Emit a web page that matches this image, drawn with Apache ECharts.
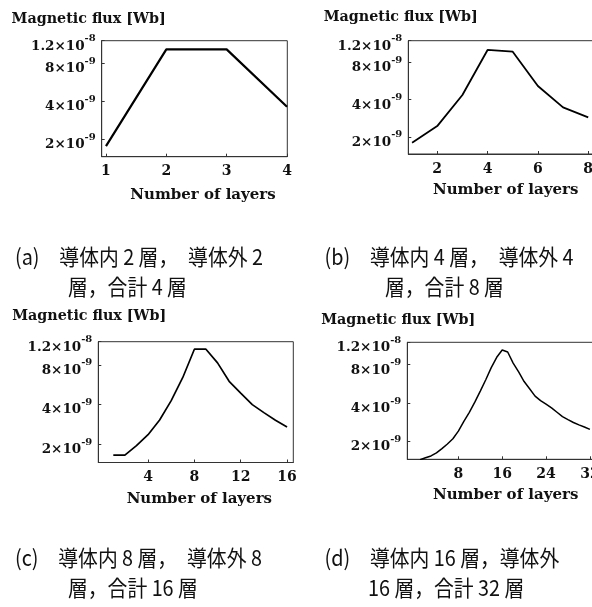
<!DOCTYPE html>
<html><head><meta charset="utf-8">
<script src="https://cdn.jsdelivr.net/npm/echarts@6/dist/echarts.min.js"></script>
<style>html,body{margin:0;padding:0;background:#fff}#c{width:592px;height:607px}</style>
</head><body><div id="c"></div>
<script>
// Number of layers (x) and magnetic flux values in units of 10^-9 Wb (y)
const layersA = [1, 2, 3, 4];
const fluxA = [1.76, 10.25, 10.25, 3.6];
const layersB = [1, 2, 3, 4, 5, 6, 7, 8];
const fluxB = [1.79, 2.44, 4.36, 10.1, 9.77, 5.15, 3.46, 2.87];
const layersC = [1, 2, 3, 4, 5, 6, 7, 8, 9, 10, 11, 12, 13, 14, 15, 16];
const fluxC = [1.65, 1.65, 1.95, 2.36, 3.05, 4.28, 6.42, 10.52, 10.52, 8.29, 6.0, 4.88, 3.99, 3.47, 3.04, 2.70];
const layersD = [1, 2, 3, 4, 5, 6, 7, 8, 9, 10, 11, 12, 13, 14, 15, 16, 17, 18, 19, 20, 21, 22, 23, 24, 25, 26, 27, 28, 29, 30, 31, 32];
const fluxD = [1.44, 1.49, 1.54, 1.63, 1.76, 1.91, 2.10, 2.41, 2.88, 3.39, 4.07, 4.97, 6.10, 7.59, 9.15, 10.44,
               10.07, 8.25, 7.02, 5.91, 5.18, 4.54, 4.18, 3.92, 3.67, 3.39, 3.13, 2.97, 2.82, 2.70, 2.60, 2.49];

// tick labels
const xTicksA = [1, 2, 3, 4];
const xTicksB = [2, 4, 6, 8];
const xTicksC = [4, 8, 12, 16];
const xTicksD = [8, 16, 24, 32];
const yTickValues = [2, 4, 8, 12];
const yTickMantissa = ['2×10', '4×10', '8×10', '1.2×10'];
const yTickExponent = ['-9', '-9', '-9', '-8'];
const yAxisTitle = 'Magnetic flux [Wb]';
const xAxisTitle = 'Number of layers';
const captionsA = ['(a)　導体内 2 層，　導体外 2', '層，合計 4 層'];
const captionsB = ['(b)　導体内 4 層，　導体外 4', '層，合計 8 層'];
const captionsC = ['(c)　導体内 8 層，　導体外 8', '層，合計 16 層'];
const captionsD = ['(d)　導体内 16 層，導体外', '16 層，合計 32 層'];

const serif = 'DejaVu Serif';
const panels = [
  {layers: layersA, flux: fluxA, xTicks: xTicksA, grid: {left: 101.7, top: 40.7, width: 185.6, height: 116},
   xMin: 0.929, xMax: 4.005, gapX: 31, padX: 17, gapY: 14, padY: 26, lw: 2.2,
   cap: captionsA, capPos: [[15, 257], [68, 287]]},
  {layers: layersB, flux: fluxB, xTicks: xTicksB, grid: {left: 408.3, top: 40.7, width: 184.7, height: 113.3},
   xMin: 0.85, xMax: 8.19, gapX: 29, padX: 10, gapY: 16, padY: 15, lw: 1.8,
   cap: captionsB, capPos: [[324.5, 257], [385, 287]]},
  {layers: layersC, flux: fluxC, xTicks: xTicksC, grid: {left: 98.3, top: 341.7, width: 195, height: 120.8},
   xMin: -0.295, xMax: 16.54, gapX: 29, padX: 7, gapY: 18, padY: 18, lw: 1.7,
   cap: captionsC, capPos: [[15, 558], [68, 588]]},
  {layers: layersD, flux: fluxD, xTicks: xTicksD, grid: {left: 407.3, top: 342.3, width: 185.7, height: 117},
   xMin: -1.32, xMax: 32.57, gapX: 28.5, padX: 11, gapY: 15, padY: 18, lw: 1.5,
   cap: captionsD, capPos: [[324.5, 558], [368, 588]]}
];

function fmtY(val) {
  let k = 0, best = Infinity;
  yTickValues.forEach((t, i) => { const d = Math.abs(Math.log(val) - Math.log(t)); if (d < best) { best = d; k = i; } });
  return '{m|' + yTickMantissa[k] + '}{s|' + yTickExponent[k] + '}';
}

const option = {animation: false, backgroundColor: '#fff', grid: [], xAxis: [], yAxis: [], series: [], graphic: []};
panels.forEach((p, i) => {
  option.grid.push(Object.assign({}, p.grid, {show: true, borderColor: '#333', borderWidth: 1, containLabel: false, outerBoundsMode: 'none'}));
  option.xAxis.push({
    type: 'value', gridIndex: i, min: p.xMin, max: p.xMax,
    name: xAxisTitle, nameLocation: 'middle', nameGap: p.gapX,
    nameTextStyle: {fontFamily: serif, fontWeight: 'bold', fontSize: 15, color: '#111', padding: [0, 0, 0, p.padX]},
    axisLine: {show: true, onZero: false, lineStyle: {color: '#333', width: 1}},
    axisTick: {show: true, inside: true, length: 3, customValues: p.xTicks, lineStyle: {color: '#333'}},
    axisLabel: {customValues: p.xTicks, margin: 8, fontFamily: serif, fontWeight: 'bold', fontSize: 14, color: '#111'},
    splitLine: {show: false}
  });
  option.yAxis.push({
    type: 'log', logBase: 2, gridIndex: i, min: 1.45, max: 12,
    name: yAxisTitle, nameLocation: 'end', nameGap: p.gapY,
    nameTextStyle: {fontFamily: serif, fontWeight: 'bold', fontSize: 14.3, color: '#111', padding: [0, p.padY, 0, 0]},
    axisLine: {show: true, onZero: false, lineStyle: {color: '#333', width: 1}},
    axisTick: {show: true, inside: true, length: 3, customValues: yTickValues, lineStyle: {color: '#333'}},
    axisLabel: {customValues: yTickValues, margin: 6, formatter: fmtY, rich: {
      m: {fontFamily: serif, fontWeight: 'bold', fontSize: 13.5, color: '#111', padding: [11, 0, 0, 0]},
      s: {fontFamily: serif, fontWeight: 'bold', fontSize: 10, color: '#111', padding: [0, 0, 4, 0]}
    }},
    splitLine: {show: false}, minorTick: {show: false}
  });
  option.series.push({
    type: 'line', xAxisIndex: i, yAxisIndex: i, symbol: 'none', clip: true,
    data: p.layers.map((x, j) => [x, p.flux[j]]),
    lineStyle: {color: '#000', width: p.lw}
  });
  p.cap.forEach((t, j) => {
    option.graphic.push({type: 'text', x: p.capPos[j][0], y: p.capPos[j][1], scaleX: 0.9,
      style: {text: t, fontFamily: 'Noto Sans CJK JP', fontSize: 22, fill: '#111', align: 'left', verticalAlign: 'middle'}});
  });
});

const chart = echarts.init(document.getElementById('c'), null, {renderer: 'canvas'});
chart.setOption(option);
</script></body></html>
